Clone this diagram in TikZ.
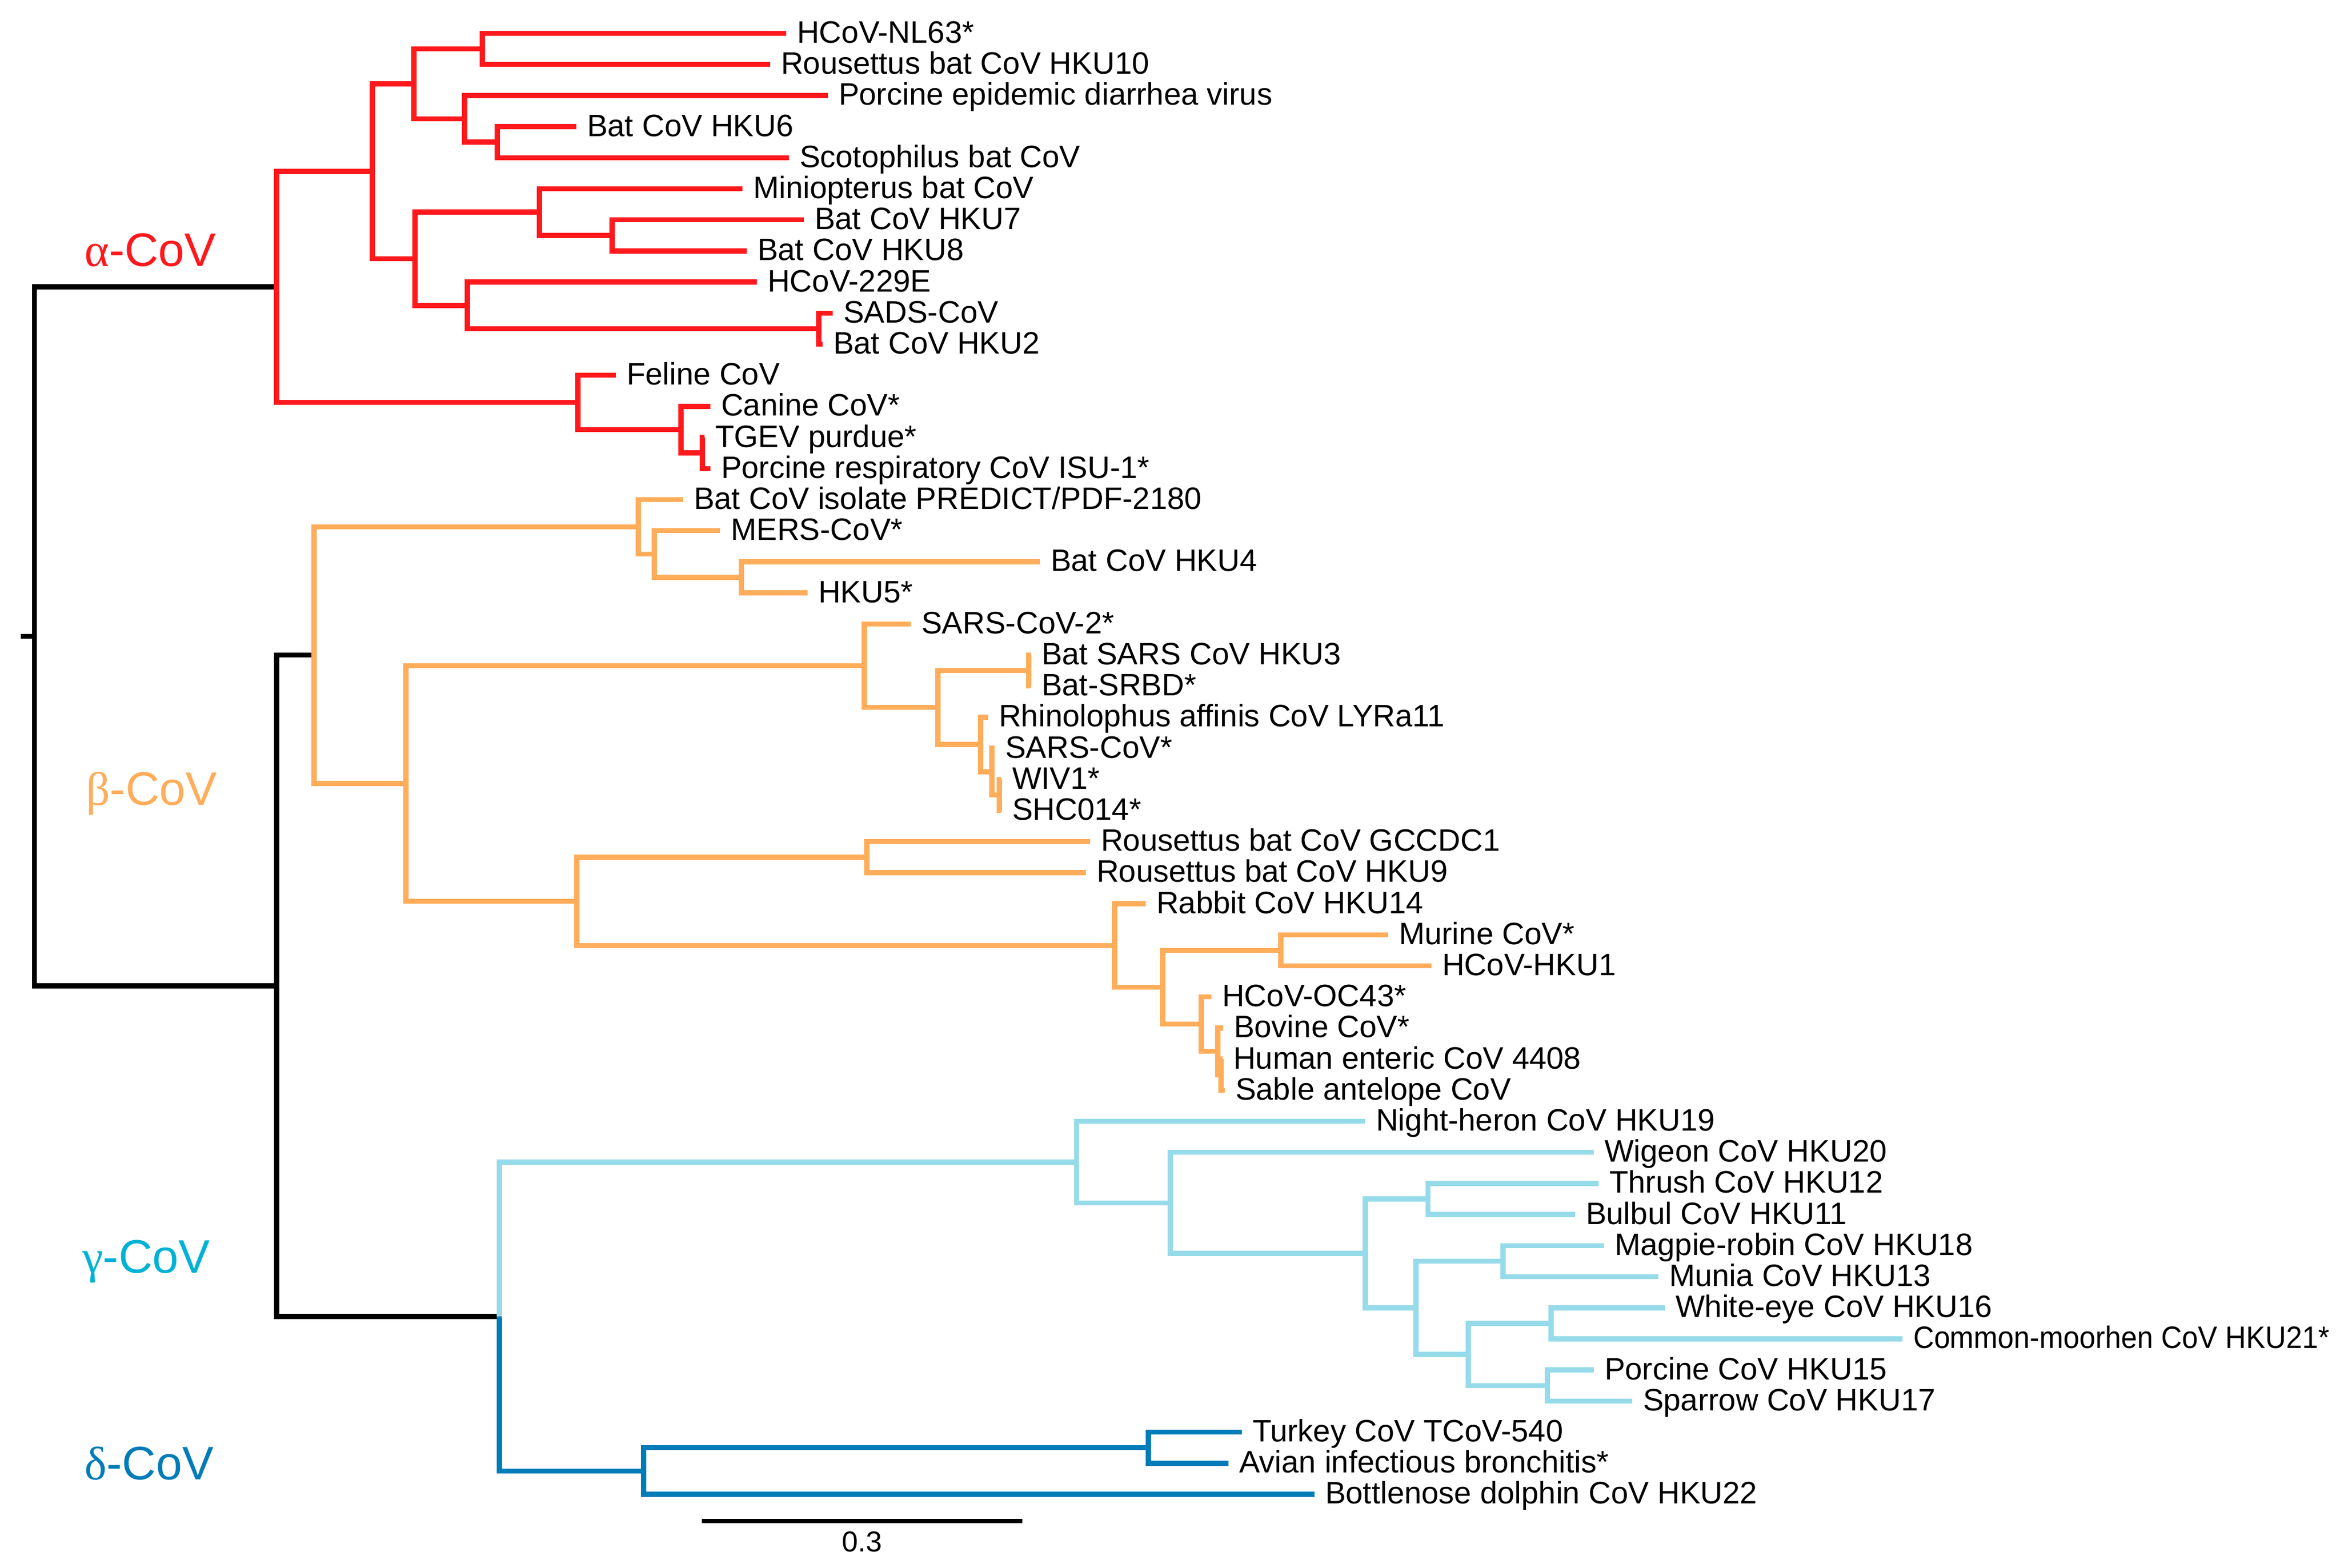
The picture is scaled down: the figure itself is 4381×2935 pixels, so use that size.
\documentclass[tikz,border=0pt]{standalone}
\usepackage{fontspec}
\setmainfont{Liberation Sans}
\newfontfamily\grkfont{Liberation Serif}
\definecolor{cred}{RGB}{255,24,28}
\definecolor{corange}{RGB}{255,173,90}
\definecolor{clblue}{RGB}{150,219,234}
\definecolor{cdblue}{RGB}{0,124,185}
\definecolor{ccyan}{RGB}{0,178,214}
\newcommand\leafpt[3]{%
  \coordinate (L#1) at (#2,{62.5+58.2*#1});
  \node[lab] (T#1) at ({#2+19},{80.5+58.2*#1}) {#3};}
\begin{document}
\begin{tikzpicture}[x=0.2pt,y=-0.2pt,
  br/.style={line width=1.9pt, line join=miter, line cap=butt},
  lab/.style={anchor=base west, inner sep=0pt, font=\fontsize{11.6}{13}\selectfont},
  grp/.style={anchor=base west, inner sep=0pt, font=\fontsize{17.6}{20}\selectfont}]
\useasboundingbox (0,0) rectangle (4381,2935);
% ---------- leaves ----------
\leafpt{0}{1472}{HCoV-NL63*}
\leafpt{1}{1442}{Rousettus bat CoV HKU10}
\leafpt{2}{1550}{Porcine epidemic diarrhea virus}
\leafpt{3}{1079}{Bat CoV HKU6}
\leafpt{4}{1477}{Scotophilus bat CoV}
\leafpt{5}{1390}{Miniopterus bat CoV}
\leafpt{6}{1505}{Bat CoV HKU7}
\leafpt{7}{1398}{Bat CoV HKU8}
\leafpt{8}{1417}{HCoV-229E}
\leafpt{9}{1559}{SADS-CoV}
\leafpt{10}{1540}{Bat CoV HKU2}
\leafpt{11}{1153}{Feline CoV}
\leafpt{12}{1330}{Canine CoV*}
\leafpt{13}{1319}{TGEV purdue*}
\leafpt{14}{1330}{Porcine respiratory CoV ISU-1*}
\leafpt{15}{1279}{Bat CoV isolate PREDICT/PDF-2180}
\leafpt{16}{1348}{MERS-CoV*}
\leafpt{17}{1947}{Bat CoV HKU4}
\leafpt{18}{1512}{HKU5*}
\leafpt{19}{1705}{SARS-CoV-2*}
\leafpt{20}{1930}{Bat SARS CoV HKU3}
\leafpt{21}{1930}{Bat-SRBD*}
\leafpt{22}{1850}{Rhinolophus affinis CoV LYRa11}
\leafpt{23}{1862}{SARS-CoV*}
\leafpt{24}{1875}{WIV1*}
\leafpt{25}{1875}{SHC014*}
\leafpt{26}{2041}{Rousettus bat CoV GCCDC1}
\leafpt{27}{2033}{Rousettus bat CoV HKU9}
\leafpt{28}{2145}{Rabbit CoV HKU14}
\leafpt{29}{2599}{Murine CoV*}
\leafpt{30}{2680}{HCoV-HKU1}
\leafpt{31}{2268}{HCoV-OC43*}
\leafpt{32}{2290}{Bovine CoV*}
\leafpt{33}{2289}{Human enteric CoV 4408}
\leafpt{34}{2293}{Sable antelope CoV}
\leafpt{35}{2556}{Night-heron CoV HKU19}
\leafpt{36}{2984}{Wigeon CoV HKU20}
\leafpt{37}{2993}{Thrush CoV HKU12}
\leafpt{38}{2949}{Bulbul CoV HKU11}
\leafpt{39}{3003}{Magpie-robin CoV HKU18}
\leafpt{40}{3105}{Munia CoV HKU13}
\leafpt{41}{3117}{White-eye CoV HKU16}
\leafpt{42}{3562}{\scalebox{0.93}[1]{Common-moorhen CoV HKU21*}}
\leafpt{43}{2984}{Porcine CoV HKU15}
\leafpt{44}{3056}{Sparrow CoV HKU17}
\leafpt{45}{2325}{Turkey CoV TCoV-540}
\leafpt{46}{2300}{Avian infectious bronchitis*}
\leafpt{47}{2461}{Bottlenose dolphin CoV HKU22}
% ---------- internal nodes ----------
\coordinate (rt) at (38.6,1191.55);
\coordinate (root) at (64.5,1191.55);
\coordinate (BGD) at (518,1845.9);
\coordinate (GD) at (935,2465.1);
% alpha
\coordinate (Aroot) at (518,537.2);
\coordinate (A1) at (697,320.8);
\coordinate (A11) at (775,157.1);
\coordinate (A111) at (903,91.6);
\coordinate (A112) at (870,222.55);
\coordinate (A1121) at (931,266.2);
\coordinate (A12) at (777,484.45);
\coordinate (A121) at (1010,397.15);
\coordinate (A1211) at (1146,440.8);
\coordinate (A122) at (875,571.75);
\coordinate (A1221) at (1533,615.4);
\coordinate (A2) at (1082,753.6);
\coordinate (A21) at (1275,804.55);
\coordinate (A211) at (1315,848.2);
% beta
\coordinate (Broot) at (588,1226.7);
\coordinate (B1) at (1195,986.4);
\coordinate (B11) at (1225,1037.35);
\coordinate (B111) at (1388,1081);
\coordinate (B2) at (760,1467);
\coordinate (B21) at (1618,1246.5);
\coordinate (B211) at (1756,1324.7);
\coordinate (B2111) at (1926,1255.6);
\coordinate (B2112) at (1836,1393.8);
\coordinate (B21121) at (1857,1444.75);
\coordinate (B211211) at (1871,1488.4);
\coordinate (B22) at (1080,1687.55);
\coordinate (B221) at (1623,1604.8);
\coordinate (B222) at (2087,1770.3);
\coordinate (B2221) at (2177,1848.5);
\coordinate (B22211) at (2398,1779.4);
\coordinate (B22212) at (2249,1917.6);
\coordinate (B222121) at (2280,1968.55);
\coordinate (B2221211) at (2286,2012.2);
% gamma
\coordinate (Groot) at (2015.5,2175.9);
\coordinate (G1) at (2191,2252.3);
\coordinate (G11) at (2556,2346.85);
\coordinate (G111) at (2673.5,2245);
\coordinate (G112) at (2651,2448.7);
\coordinate (G1121) at (2814,2361.4);
\coordinate (G1122) at (2749,2536);
\coordinate (G11221) at (2904,2477.8);
\coordinate (G11222) at (2897,2594.2);
% delta
\coordinate (Droot) at (1205,2754.25);
\coordinate (D1) at (2150,2710.6);
% ---------- branches ----------
\draw[br,black] (rt) -- (root);
\foreach \p/\c in {root/Aroot,root/BGD,BGD/Broot,BGD/GD}
  \draw[br,black] (\p) |- (\c);
\foreach \p/\c in {Aroot/A1,Aroot/A2,A1/A11,A1/A12,A11/A111,A11/A112,
  A111/L0,A111/L1,A112/L2,A112/A1121,A1121/L3,A1121/L4,A12/A121,A12/A122,
  A121/L5,A121/A1211,A1211/L6,A1211/L7,A122/L8,A122/A1221,A1221/L9,A1221/L10,
  A2/L11,A2/A21,A21/L12,A21/A211,A211/L13,A211/L14}
  \draw[br,cred] (\p) |- (\c);
\foreach \p/\c in {Broot/B1,Broot/B2,B1/L15,B1/B11,B11/L16,B11/B111,B111/L17,B111/L18,
  B2/B21,B2/B22,B21/L19,B21/B211,B211/B2111,B211/B2112,B2111/L20,B2111/L21,
  B2112/L22,B2112/B21121,B21121/L23,B21121/B211211,B211211/L24,B211211/L25,
  B22/B221,B22/B222,B221/L26,B221/L27,B222/L28,B222/B2221,B2221/B22211,B2221/B22212,
  B22211/L29,B22211/L30,B22212/L31,B22212/B222121,B222121/L32,B222121/B2221211,
  B2221211/L33,B2221211/L34}
  \draw[br,corange] (\p) |- (\c);
\foreach \p/\c in {GD/Groot,Groot/L35,Groot/G1,G1/L36,G1/G11,G11/G111,G11/G112,
  G111/L37,G111/L38,G112/G1121,G112/G1122,G1121/L39,G1121/L40,G1122/G11221,G1122/G11222,
  G11221/L41,G11221/L42,G11222/L43,G11222/L44}
  \draw[br,clblue] (\p) |- (\c);
\foreach \p/\c in {GD/Droot,Droot/D1,Droot/L47,D1/L45,D1/L46}
  \draw[br,cdblue] (\p) |- (\c);
% ---------- group labels ----------
\node[grp,text=cred] (galpha) at (157,498) {{\grkfont α}-CoV};
\node[grp,text=corange] (gbeta) at (160,1507) {{\grkfont β}-CoV};
\node[grp,text=ccyan] (ggamma) at (153,2383) {{\grkfont γ}-CoV};
\node[grp,text=cdblue] (gdelta) at (157,2770) {{\grkfont δ}-CoV};
% ---------- scale bar ----------
\coordinate (sb1) at (1314,2848);
\coordinate (sb2) at (1914,2848);
\draw[line width=1.6pt] (sb1) -- (sb2);
\node[anchor=base, inner sep=0pt, font=\fontsize{10.8}{12}\selectfont] (sbt) at (1614,2905) {0.3};
\end{tikzpicture}
\end{document}
